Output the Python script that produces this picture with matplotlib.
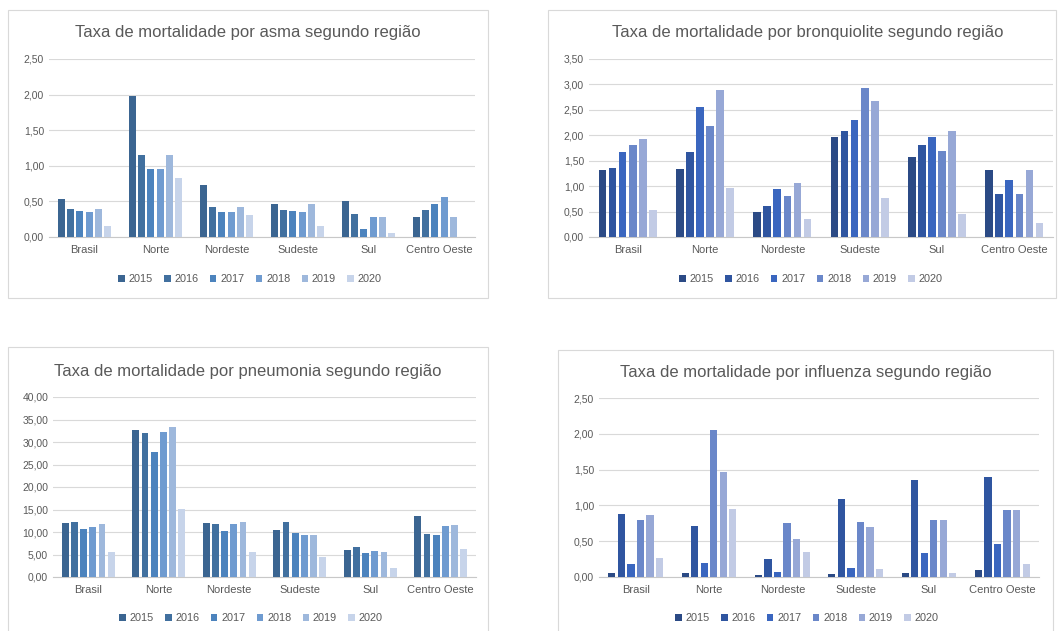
import numpy as np
import matplotlib.pyplot as plt
from matplotlib.patches import Rectangle, Patch
from matplotlib.ticker import FuncFormatter, MultipleLocator

regions = ['Brasil', 'Norte', 'Nordeste', 'Sudeste', 'Sul', 'Centro Oeste']
years = ['2015', '2016', '2017', '2018', '2019', '2020']

# taxa por ano, uma lista por ano (ordem das regiões acima)
asma = [
    [0.53, 1.98, 0.73, 0.46, 0.50, 0.28],
    [0.39, 1.15, 0.42, 0.38, 0.33, 0.38],
    [0.37, 0.95, 0.35, 0.36, 0.11, 0.46],
    [0.35, 0.95, 0.35, 0.35, 0.28, 0.56],
    [0.40, 1.15, 0.42, 0.46, 0.28, 0.28],
    [0.16, 0.83, 0.31, 0.15, 0.05, 0.00],
]
bronquiolite = [
    [1.32, 1.34, 0.49, 1.97, 1.58, 1.32],
    [1.35, 1.67, 0.61, 2.09, 1.81, 0.85],
    [1.67, 2.56, 0.95, 2.30, 1.97, 1.12],
    [1.81, 2.19, 0.80, 2.92, 1.69, 0.85],
    [1.93, 2.90, 1.06, 2.68, 2.09, 1.32],
    [0.53, 0.96, 0.35, 0.76, 0.45, 0.28],
]
pneumonia = [
    [12.05, 32.6, 12.05, 10.5, 6.06, 13.6],
    [12.27, 32.0, 11.83, 12.27, 6.73, 9.61],
    [10.72, 27.7, 10.28, 9.83, 5.40, 9.39],
    [11.16, 32.2, 11.83, 9.39, 5.84, 11.39],
    [11.83, 33.3, 12.27, 9.39, 5.62, 11.6],
    [5.55, 15.1, 5.60, 4.44, 2.07, 6.28],
]
influenza = [
    [0.06, 0.06, 0.03, 0.04, 0.06, 0.10],
    [0.88, 0.71, 0.25, 1.09, 1.35, 1.40],
    [0.18, 0.20, 0.07, 0.13, 0.34, 0.46],
    [0.79, 2.05, 0.76, 0.77, 0.79, 0.94],
    [0.86, 1.47, 0.53, 0.70, 0.79, 0.94],
    [0.27, 0.95, 0.35, 0.11, 0.06, 0.18],
]

steel = ['#3b6591', '#41709f', '#4c83bd', '#6f9bd0', '#9eb8dc', '#c7d4ea']
royal = ['#2b4a85', '#2f55a0', '#3a66bf', '#6a87c9', '#97a8d6', '#c2cbe5']

W, H = 1058, 631
fig = plt.figure(figsize=(W / 100, H / 100), dpi=100)
plt.rcParams['font.family'] = ['Liberation Sans', 'DejaVu Sans']
grey = '#595959'


def fx(px):
    return px / W


def fy(py):
    return 1 - py / H


def panel(frame, area, title, title_xy, data, colors, ymax, step, legend_xy):
    x0, y0, x1, y1 = frame
    fig.patches.append(Rectangle((fx(x0), fy(y1)), fx(x1 - x0), (y1 - y0) / H,
                                 transform=fig.transFigure, fill=False,
                                 edgecolor='#d9d9d9', linewidth=0.8))
    ax0, ay0, ax1, ay1 = area
    ax = fig.add_axes([fx(ax0), fy(ay1), fx(ax1 - ax0), (ay1 - ay0) / H])
    n = len(data)
    w = 0.78 / n
    x = np.arange(len(regions))
    for i, vals in enumerate(data):
        ax.bar(x - 0.39 + w * (i + 0.5), vals, width=w * 0.76, color=colors[i],
               label=years[i], zorder=3)
    ax.set_xlim(-0.5, len(regions) - 0.5)
    ax.set_ylim(0, ymax)
    ax.yaxis.set_major_locator(MultipleLocator(step))
    ax.yaxis.set_major_formatter(FuncFormatter(lambda v, p: f'{v:.2f}'.replace('.', ',')))
    ax.grid(axis='y', color='#d9d9d9', linewidth=0.8, zorder=0)
    for s in ['top', 'right', 'left']:
        ax.spines[s].set_visible(False)
    ax.spines['bottom'].set_color('#c8c8c8')
    ax.spines['bottom'].set_linewidth(0.8)
    ax.set_xticks(x)
    ax.set_xticklabels(regions)
    ax.tick_params(axis='both', length=0, labelsize=7.5, colors=grey)
    ax.tick_params(axis='x', pad=6, labelsize=8)
    ax.set_facecolor('none')
    fig.text(fx(title_xy[0]), fy(title_xy[1]), title, ha='center', va='center',
             fontsize=12, color=grey)
    handles = [Patch(facecolor=c) for c in colors]
    fig.legend(handles, years, loc='center', bbox_to_anchor=(fx(legend_xy[0]), fy(legend_xy[1])),
               ncol=6, frameon=False, fontsize=7.8, labelcolor=grey, handlelength=0.6,
               handleheight=0.6, handletextpad=0.35, columnspacing=1.05)


panel((8, 10, 488, 298), (49, 59, 475, 237), 'Taxa de mortalidade por asma segundo região', (248, 33),
      asma, steel, 2.5, 0.5, (250, 279))
panel((548, 10, 1056, 298), (589, 59, 1053, 237), 'Taxa de mortalidade por bronquiolite segundo região',
      (808, 33), bronquiolite, royal, 3.5, 0.5, (811, 279))
panel((8, 347, 488, 640), (53, 397, 476, 577), 'Taxa de mortalidade por pneumonia segundo região',
      (248, 371), pneumonia, steel, 40, 5, (251, 618))
panel((558, 350, 1053, 640), (599, 398, 1039, 577), 'Taxa de mortalidade por influenza segundo região',
      (806, 373), influenza, royal, 2.5, 0.5, (807, 618))

fig.savefig('out.png', dpi=100, facecolor='white')
